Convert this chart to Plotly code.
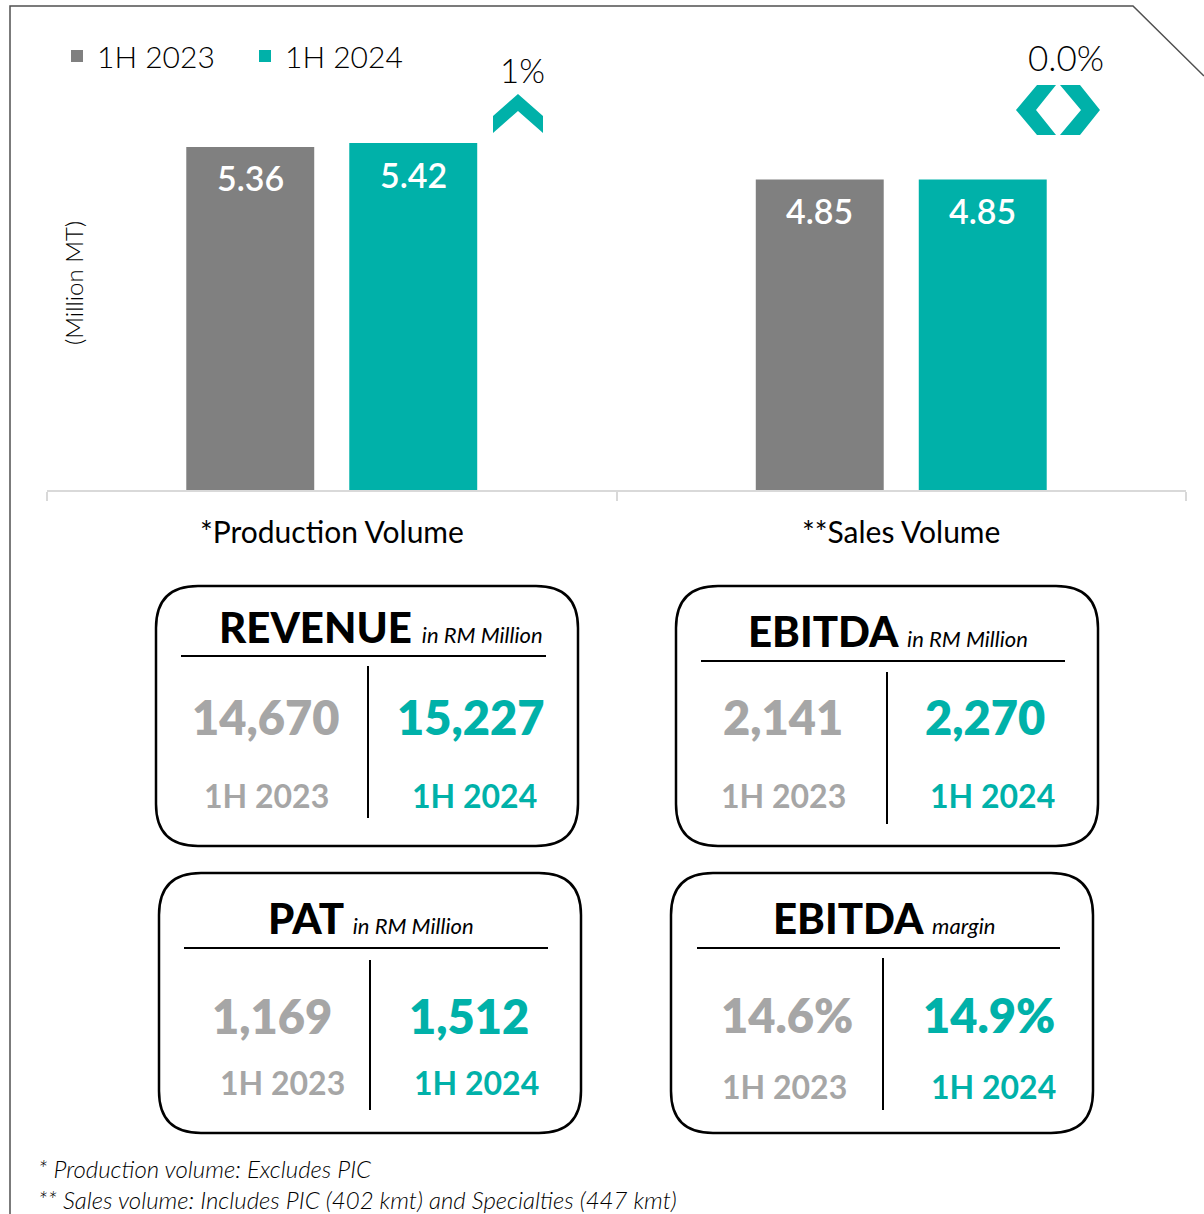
import plotly.graph_objects as go

# ---------------- data ----------------
categories = ["*Production Volume", "**Sales Volume"]
series_names = ["1H 2023", "1H 2024"]
values_2023 = [5.36, 4.85]
values_2024 = [5.42, 4.85]
change_labels = ["1%", "0.0%"]

kpi_titles = ["REVENUE", "EBITDA", "PAT", "EBITDA"]
kpi_units = ["in RM Million", "in RM Million", "in RM Million", "margin"]
kpi_2023 = ["14,670", "2,141", "1,169", "14.6%"]
kpi_2024 = ["15,227", "2,270", "1,512", "14.9%"]

footnotes = ["* Production volume: Excludes PIC",
             "** Sales volume: Includes PIC (402 kmt) and Specialties (447 kmt)"]

# ---------------- style ----------------
W, H = 1204, 1214
GRAY = "#808080"
TEAL = "#00B1A9"
LGRAY = "#A6A6A6"
FONT = "Lato"


def px(x):
    return x / W


def py(y):
    return 1 - y / H


fig = go.Figure()
fig.add_trace(go.Bar(name=series_names[0], x=categories, y=values_2023,
                     marker=dict(color=GRAY, line=dict(width=0))))
fig.add_trace(go.Bar(name=series_names[1], x=categories, y=values_2024,
                     marker=dict(color=TEAL, line=dict(width=0))))

plot_top, plot_bottom = 100, 490
px_per_unit = 64.0
ymax = (plot_bottom - plot_top) / px_per_unit

fig.update_layout(
    width=W, height=H,
    margin=dict(l=0, r=0, t=0, b=0),
    paper_bgcolor="white", plot_bgcolor="white",
    barmode="group", bargap=0.4276, bargroupgap=0.215,
    font=dict(family=FONT, color="black"),
    showlegend=True,
    legend=dict(orientation="h", x=px(57), y=py(30), xanchor="left", yanchor="top",
                font=dict(size=30, family=FONT, weight=300, color="black"),
                bgcolor="rgba(0,0,0,0)", itemwidth=30, tracegroupgap=0, entrywidth=143),
    xaxis=dict(domain=[px(47), px(1186)], showline=True, linecolor="#D9D9D9", linewidth=2,
               ticks="outside", tickson="boundaries", ticklen=9, tickcolor="#D9D9D9",
               tickwidth=2, showticklabels=False, showgrid=False, zeroline=False,
               fixedrange=True),
    yaxis=dict(domain=[py(plot_bottom), py(plot_top)], range=[0, ymax], visible=False,
               showgrid=False, zeroline=False, fixedrange=True),
)

annotations = []
shapes = []


def note(x, y, text, font, **kw):
    d = dict(x=px(x), y=py(y), xref="paper", yref="paper", text=text, showarrow=False,
             xanchor="center", yanchor="middle", font=font)
    d.update(kw)
    return d


# bar value labels
half_slot = (128 + 35) / 2
for vals, shift in ((values_2023, -half_slot), (values_2024, half_slot)):
    for cat, v in zip(categories, vals):
        annotations.append(dict(x=cat, y=v, xref="x", yref="y", xshift=shift, yshift=-31,
                                xanchor="center", yanchor="middle",
                                text=f"{v:.2f}", showarrow=False,
                                font=dict(size=34, color="white", family=FONT, weight=600)))

# category labels
for cat in categories:
    annotations.append(dict(x=cat, y=py(531), xref="x", yref="paper", text=cat,
                            xanchor="center", yanchor="middle",
                            showarrow=False, font=dict(size=30, family=FONT, color="black")))

# y axis title
annotations.append(note(73, 283, "(Million MT)", dict(size=24, family=FONT, weight=300, color="black"),
                        textangle=-90))

# change labels
annotations.append(note(522, 70, change_labels[0], dict(size=33, family=FONT, weight=300, color="black")))
annotations.append(note(1066, 57, change_labels[1], dict(size=35, family=FONT, weight=300, color="black")))


def poly(points):
    return "M " + " L ".join(f"{px(x):.5f},{py(y):.5f}" for x, y in points) + " Z"


# up chevron
shapes.append(dict(type="path", xref="paper", yref="paper", line=dict(width=0), fillcolor=TEAL,
                   path=poly([(518, 94), (543, 116), (543, 133), (518, 111), (493, 133), (493, 116)])))
# <> chevrons
shapes.append(dict(type="path", xref="paper", yref="paper", line=dict(width=0), fillcolor=TEAL,
                   path=poly([(1037, 85), (1056, 85), (1036, 110), (1056, 135), (1037, 135), (1016, 110)])))
shapes.append(dict(type="path", xref="paper", yref="paper", line=dict(width=0), fillcolor=TEAL,
                   path=poly([(1060, 85), (1080, 85), (1100, 110), (1080, 135), (1060, 135), (1081, 110)])))

# frame
shapes.append(dict(type="path", xref="paper", yref="paper", line=dict(color="#505050", width=1.5),
                   path=f"M {px(10)},{py(1214)} L {px(10)},{py(6)} L {px(1133)},{py(6)} L {px(1204)},{py(76)}"))


def rounded_box(x0, y0, x1, y1, r):
    return (f"M {px(x0 + r)},{py(y0)} L {px(x1 - r)},{py(y0)} Q {px(x1)},{py(y0)} {px(x1)},{py(y0 + r)} "
            f"L {px(x1)},{py(y1 - r)} Q {px(x1)},{py(y1)} {px(x1 - r)},{py(y1)} "
            f"L {px(x0 + r)},{py(y1)} Q {px(x0)},{py(y1)} {px(x0)},{py(y1 - r)} "
            f"L {px(x0)},{py(y0 + r)} Q {px(x0)},{py(y0)} {px(x0 + r)},{py(y0)} Z")


# KPI box layouts (pixel geometry)
boxes = [
    dict(box=(156, 586, 578, 846), tx=381, ty=627, hl=(181, 546, 656), vl=(368, 666, 818),
         v=(266, 471, 717), l=(266, 474, 795)),
    dict(box=(676, 586, 1098, 846), tx=888, ty=631, hl=(701, 1065, 661), vl=(887, 672, 824),
         v=(783, 985, 717), l=(783, 992, 795)),
    dict(box=(159, 873, 581, 1133), tx=371, ty=918, hl=(184, 548, 948), vl=(370, 960, 1110),
         v=(272, 469, 1016), l=(282, 476, 1082)),
    dict(box=(671, 873, 1093, 1133), tx=884, ty=918, hl=(697, 1060, 948), vl=(883, 958, 1110),
         v=(787, 989, 1015), l=(784, 993, 1086)),
]

for i, b in enumerate(boxes):
    x0, y0, x1, y1 = b["box"]
    shapes.append(dict(type="path", xref="paper", yref="paper", path=rounded_box(x0, y0, x1, y1, 42),
                       line=dict(color="black", width=2.5), fillcolor="rgba(0,0,0,0)"))
    hx0, hx1, hy = b["hl"]
    shapes.append(dict(type="line", xref="paper", yref="paper", x0=px(hx0), x1=px(hx1), y0=py(hy), y1=py(hy),
                       line=dict(color="black", width=2)))
    vx, vy0, vy1 = b["vl"]
    shapes.append(dict(type="line", xref="paper", yref="paper", x0=px(vx), x1=px(vx), y0=py(vy0), y1=py(vy1),
                       line=dict(color="black", width=2)))
    annotations.append(note(
        b["tx"], b["ty"],
        (f"{kpi_titles[i]} <span style='font-size:22px;font-weight:400;font-style:italic'>"
         f"{kpi_units[i]}</span>"),
        dict(size=42, family=FONT, weight=900, color="black")))
    vx1, vx2, vyy = b["v"]
    annotations.append(note(vx1, vyy, kpi_2023[i], dict(size=47, family=FONT, weight=800, color=LGRAY)))
    annotations.append(note(vx2, vyy, kpi_2024[i], dict(size=47, family=FONT, weight=800, color=TEAL)))
    lx1, lx2, lyy = b["l"]
    annotations.append(note(lx1, lyy, series_names[0], dict(size=32, family=FONT, weight=700, color=LGRAY)))
    annotations.append(note(lx2, lyy, series_names[1], dict(size=32, family=FONT, weight=700, color=TEAL)))

# footnotes (one block, two lines)
annotations.append(note(36, 1184, "<br>".join(footnotes),
                        dict(size=24, family=FONT, weight=300, style="italic", color="black"),
                        xanchor="left", align="left"))

fig.update_layout(annotations=annotations, shapes=shapes)
fig.write_html("out.html", config={"displayModeBar": False},
               post_script="document.body.style.margin='0';")
